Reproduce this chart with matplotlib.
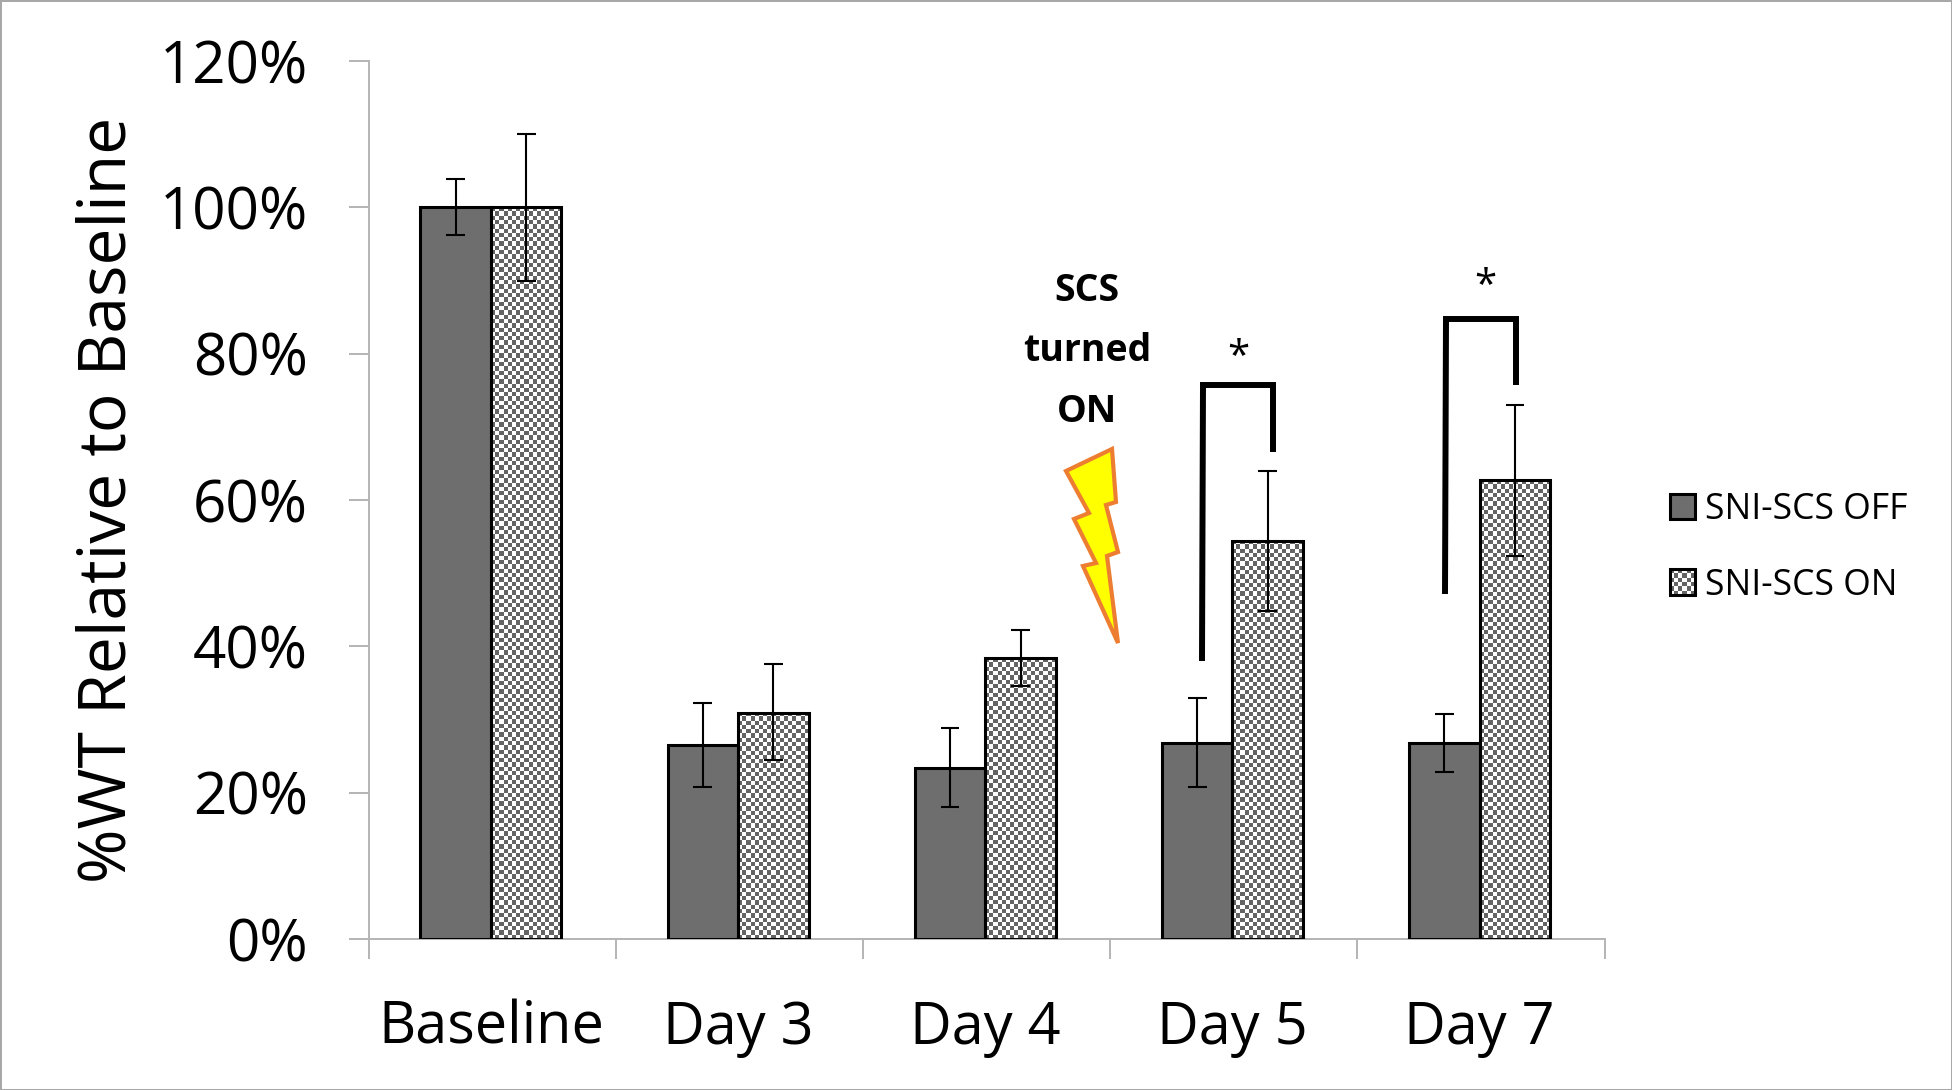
import numpy as np
import matplotlib
matplotlib.use('Agg')
import matplotlib.pyplot as plt
from matplotlib.patches import Polygon, Rectangle

plt.rcParams['font.family'] = ['Open Sans', 'DejaVu Sans']

# data
categories = ['Baseline', 'Day 3', 'Day 4', 'Day 5', 'Day 7']
off_vals = [100, 26.5, 23.4, 26.8, 26.8]
off_low = [96.2, 20.8, 18.0, 20.8, 22.8]
off_high = [103.9, 32.2, 28.9, 33.0, 30.8]
on_vals = [100, 30.9, 38.4, 54.4, 62.7]
on_low = [90.0, 24.4, 34.6, 44.8, 52.3]
on_high = [110.0, 37.6, 42.2, 64.0, 73.0]
legend_names = ['SNI-SCS OFF', 'SNI-SCS ON']

# annotations, in pixels of the picture
bolt = [(1066, 471), (1112, 449), (1116, 502), (1106, 505), (1118, 552), (1107, 556),
        (1118, 643), (1083, 566), (1096, 563), (1074, 519), (1089, 513)]
bracket1 = [(1202, 661), (1203, 385), (1273, 385), (1273, 452)]
bracket2 = [(1445, 594), (1446, 319), (1516, 319), (1516, 385)]

W, H = 1952, 1090
GREY = '#6e6e6e'
AXIS = '#b4b4b4'


def checker(a, box, cell=4.3):
    # small checker image filling box (x0, x1, y0, y1), w/h given in pixels
    x0, x1, y0, y1, w_px, h_px = box
    nx = max(int(round(w_px / cell)), 2)
    ny = max(int(round(h_px / cell)), 2)
    pat = np.indices((ny, nx)).sum(axis=0) % 2
    a.imshow(pat, extent=(x0, x1, y0, y1), aspect='auto', cmap='gray', vmin=-0.65, vmax=1,
             interpolation='nearest', zorder=2)


fig = plt.figure(figsize=(W / 100, H / 100), dpi=100)
fig.patch.set_edgecolor('#a8a8a8')
fig.patch.set_linewidth(2)

ax = fig.add_axes([368.5 / W, 1 - 939 / H, (1604.5 - 368.5) / W, (939 - 61) / H])
centers = np.arange(5) + 0.495
bw = 70.5 / 247.2
px_per_pct = (939 - 61) / 120

ax.bar(centers - bw / 2, off_vals, bw, color=GREY, edgecolor='black', linewidth=2.2, zorder=3)
for c, v in zip(centers, on_vals):
    checker(ax, (c, c + bw, 0, v, 71, v * px_per_pct))
ax.bar(centers + bw / 2, on_vals, bw, color='none', edgecolor='black', linewidth=2.2, zorder=3)

for xs, low, high in [(centers - bw / 2, off_low, off_high), (centers + bw / 2, on_low, on_high)]:
    ax.vlines(xs, low, high, color='black', linewidth=1.5, zorder=4)
    ax.hlines(low, xs - 0.038, xs + 0.038, color='black', linewidth=1.5, zorder=4)
    ax.hlines(high, xs - 0.038, xs + 0.038, color='black', linewidth=1.5, zorder=4)

ax.set_xlim(0, 5)
ax.set_ylim(0, 120)
ax.set_yticks(np.arange(0, 121, 20))
ax.set_yticklabels([f'{v}%' for v in range(0, 121, 20)])
ax.set_xticks(np.arange(6))
ax.set_xticklabels([])
ax.set_xticks(centers, minor=True)
ax.set_xticklabels(categories, minor=True)
ax.tick_params(axis='y', length=14.4, width=1.4, color=AXIS, labelsize=42, pad=29)
ax.tick_params(axis='x', which='major', length=14.4, width=1.4, color=AXIS)
ax.tick_params(axis='x', which='minor', length=0, labelsize=41.5, pad=43.5)
for s in ['top', 'right']:
    ax.spines[s].set_visible(False)
for s in ['left', 'bottom']:
    ax.spines[s].set_color(AXIS)
    ax.spines[s].set_linewidth(1.4)

# overlay in picture pixels for the drawn-on annotations and the legend
ov = fig.add_axes([0, 0, 1, 1], facecolor='none')
ov.set_xlim(0, W)
ov.set_ylim(H, 0)
ov.axis('off')

ov.add_patch(Polygon(bolt, closed=True, facecolor='#ffff00', edgecolor='#ed7d31', linewidth=3,
                     joinstyle='miter'))
for br in [bracket1, bracket2]:
    ov.plot(*zip(*br), color='black', linewidth=4.3, solid_joinstyle='miter', solid_capstyle='butt')

ov.text(1238, 358, '*', fontsize=29, ha='center', va='center', color='black')
ov.text(1485, 287, '*', fontsize=29, ha='center', va='center', color='black')
for txt, y in zip(['SCS', 'turned', 'ON'], [291, 351, 412]):
    ov.text(1087, y, txt, fontsize=27, fontweight='bold', ha='center', va='center')

ov.text(109, 500, '%WT Relative to Baseline', rotation=90, fontsize=47.5, ha='center', va='center')

ov.add_patch(Rectangle((1670, 494), 25, 25, facecolor=GREY, edgecolor='black', linewidth=2.2))
checker(ov, (1670, 1695, 595, 569, 25, 26))
ov.add_patch(Rectangle((1670, 569), 25, 26, facecolor='none', edgecolor='black', linewidth=2.2, zorder=3))
ov.text(1705, 510, legend_names[0], fontsize=25.6, va='center', ha='left')
ov.text(1705, 586, legend_names[1], fontsize=25.6, va='center', ha='left')
ov.set_xlim(0, W)
ov.set_ylim(H, 0)

fig.savefig('out.png', dpi=100, edgecolor=fig.get_edgecolor())
